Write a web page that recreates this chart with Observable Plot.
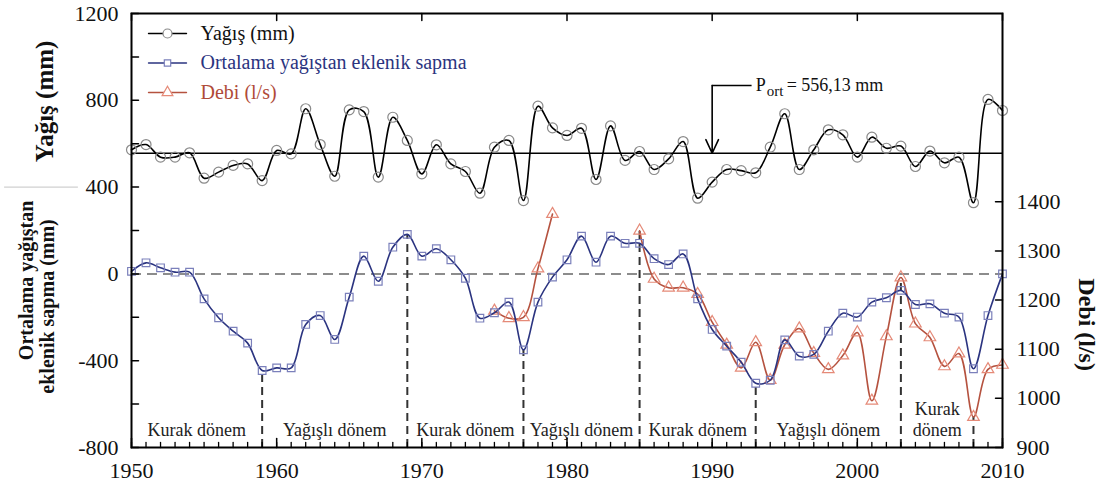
<!DOCTYPE html>
<html><head><meta charset="utf-8">
<script src="https://cdn.jsdelivr.net/npm/d3@7"></script>
<script src="https://cdn.jsdelivr.net/npm/@observablehq/plot@0.6"></script>
<style>
html,body{margin:0;padding:0;background:#fff;}
#chart{width:1106px;height:490px;}
#chart svg, #chart svg text{font-family:"Liberation Serif", "Times New Roman", serif !important;}
</style>
</head><body><div id="chart"></div>
<script>
// ---- data ----
const years = [1950,1951,1952,1953,1954,1955,1956,1957,1958,1959,
  1960,1961,1962,1963,1964,1965,1966,1967,1968,1969,
  1970,1971,1972,1973,1974,1975,1976,1977,1978,1979,
  1980,1981,1982,1983,1984,1985,1986,1987,1988,1989,
  1990,1991,1992,1993,1994,1995,1996,1997,1998,1999,
  2000,2001,2002,2003,2004,2005,2006,2007,2008,2009,2010];
const rain = [572,596,538,538,558,441,469,500,507,430,
  569,553,761,596,450,756,748,446,722,615,
  461,595,507,472,372,584,615,338,773,673,
  638,671,435,682,523,564,481,530,610,349,
  423,481,476,466,584,738,481,572,664,641,
  538,630,579,589,495,566,512,538,328,804,753];
const cumDev = [12,51,28,8,8,-115,-202,-264,-319,-445,
  -433,-433,-233,-192,-302,-107,82,-34,123,182,
  82,116,65,-20,-204,-179,-130,-350,-130,-15,
  65,174,54,174,141,141,70,43,92,-115,
  -256,-333,-407,-504,-490,-304,-379,-371,-264,-181,
  -199,-130,-110,-76,-141,-138,-181,-199,-437,-192,0];
const debi = [null,null,null,null,null,null,null,null,null,null,
  null,null,null,null,null,null,null,null,null,null,
  null,null,null,null,null,1178,1163,1165,1264,1375,
  null,null,null,null,null,1341,1243,1225,1225,1212,
  1155,1109,1062,1114,1037,1109,1142,1092,1059,1087,
  1134,995,1126,1246,1152,1124,1065,1091,962,1059,1068];
const meanRain = 556.13;
const periodBounds = [1950,1959,1969,1977,1985,1993,2003,2008];
const boundaryKind = [null,"trough","peak","trough","peak","trough","peak","trough"];
const periodLabels = ["Kurak dönem","Yağışlı dönem","Kurak dönem","Yağışlı dönem","Kurak dönem","Yağışlı dönem","Kurak\ndönem"];
const leftTickLabels = [-800,-400,0,400,800,1200];
const leftMinorTicks = [-800,-600,-400,-200,0,200,400,600,800,1000,1200];
const debiTicks = [900,1000,1100,1200,1300,1400];
const xTickLabels = [1950,1960,1970,1980,1990,2000,2010];
const seriesNames = ["Yağış (mm)","Ortalama yağıştan eklenik sapma","Debi (l/s)"];
const meanLabel = ["P","ort","= 556,13 mm"];
const meanArrow = {x: 1990, yTop: 868, xText: 1993};

// ---- secondary axis transform (Debi -> left units) ----
const debiK = 2.265;
const toL = v => -800 + (v - 900) * debiK;
const fromL = L => 900 + (L + 800) / debiK;

const rows = years.map((year, i) => ({year, rain: rain[i], dev: cumDev[i], debi: debi[i] == null ? NaN : toL(debi[i])}));
const bounds = periodBounds.slice(1).map((b, j) => {
  const r = rows.find(d => d.year === b);
  const vals = [r.dev, r.debi].filter(v => Number.isFinite(v));
  return {year: b, top: boundaryKind[j + 1] === "peak" ? Math.max(...vals) : Math.min(...vals)};
});
const periods = periodLabels.map((label, i) => ({label, x: (periodBounds[i] + periodBounds[i + 1]) / 2}));

// ---- styles ----
const FONT = "Liberation Serif";
const C = {
  rain: "#000", rainDot: "#8a8a8a",
  dev: "#2b3480", devDot: "#7b80bb",
  deb: "#b5523f", debDot: "#e58a78",
  devText: "#2b3480", debText: "#b04a38"
};
const shapeR = {draw(c, l) { c.moveTo(0, 0); c.lineTo(l, 0); }};
const shapeL = {draw(c, l) { c.moveTo(0, 0); c.lineTo(-l, 0); }};
const shapeU = {draw(c, l) { c.moveTo(0, 0); c.lineTo(0, -l); }};
const shapeD = {draw(c, l) { c.moveTo(0, 0); c.lineTo(0, l); }};

const legendStyles = [
  {line: C.rain, dot: C.rainDot, symbol: "circle", r: 4.5, text: "#111"},
  {line: C.dev, dot: C.devDot, symbol: "square", r: 3.6, text: C.devText},
  {line: C.deb, dot: C.debDot, symbol: "triangle", r: 4, text: C.debText}
];
const legendMarks = seriesNames.flatMap((name, i) => {
  const s = legendStyles[i];
  const dy = 20 + i * 29.5;
  return [
    Plot.vector([0], {frameAnchor: "top-left", dx: 17, dy, shape: shapeR, length: 38, anchor: "start", stroke: s.line, strokeWidth: 1.4}),
    Plot.dot([0], {x: null, y: null, frameAnchor: "top-left", dx: 36, dy, symbol: s.symbol, r: s.r, stroke: s.dot, fill: "white", strokeWidth: 1.2}),
    Plot.text([name], {frameAnchor: "top-left", dx: 69, dy, text: d => d, textAnchor: "start", lineAnchor: "middle", fill: s.text, fontSize: 20, fontFamily: FONT})
  ];
});

const chart = Plot.plot({
  width: 1106, height: 490,
  marginLeft: 131, marginRight: 104, marginTop: 13, marginBottom: 43,
  style: {fontFamily: FONT, background: "white", color: "#111"},
  x: {domain: [1950, 2010], axis: null},
  y: {domain: [-800, 1200], axis: null},
  marks: [
    // stray separator line at left
    Plot.vector([400], {y: d => d, frameAnchor: "left", dx: -54, shape: shapeL, length: 73, anchor: "start", stroke: "#c4c4c4", strokeWidth: 1}),
    // reference lines
    Plot.ruleY([0], {stroke: "#8c8c8c", strokeWidth: 2, strokeDasharray: "10,6"}),
    Plot.ruleY([meanRain], {stroke: "#000", strokeWidth: 1.6}),
    Plot.ruleX(bounds, {x: "year", y1: -800, y2: "top", stroke: "#333", strokeWidth: 2, strokeDasharray: "8,5"}),
    // series
    Plot.line(rows, {x: "year", y: "rain", curve: "catmull-rom", stroke: C.rain, strokeWidth: 1.6}),
    Plot.dot(rows, {x: "year", y: "rain", r: 5, stroke: C.rainDot, fill: "none", strokeWidth: 1.2}),
    Plot.line(rows, {x: "year", y: "debi", curve: "catmull-rom", stroke: C.deb, strokeWidth: 1.6}),
    Plot.dot(rows, {x: "year", y: "debi", symbol: "triangle", r: 4.3, stroke: C.debDot, fill: "none", strokeWidth: 1.2}),
    Plot.line(rows, {x: "year", y: "dev", curve: "catmull-rom", stroke: C.dev, strokeWidth: 1.6}),
    Plot.dot(rows, {x: "year", y: "dev", symbol: "square", r: 4.3, stroke: C.devDot, fill: "none", strokeWidth: 1.2}),
    // period labels
    Plot.text(periods, {x: "x", frameAnchor: "bottom", dy: -12, textAnchor: "middle", lineAnchor: "bottom", lineHeight: 1.15, text: "label", fontSize: 18, fill: "#222", fontFamily: FONT}),
    // mean annotation
    Plot.ruleY([meanArrow], {y: "yTop", x1: "x", x2: d => d.xText - 0.25, stroke: "#000", strokeWidth: 1.4}),
    Plot.arrow([meanArrow], {x1: "x", y1: "yTop", x2: "x", y2: () => meanRain, stroke: "#000", strokeWidth: 1.6, headLength: 14, headAngle: 50}),
    Plot.text([meanArrow], {x: "xText", y: "yTop", text: () => meanLabel[0], textAnchor: "start", fontSize: 18, fill: "#111", fontFamily: FONT}),
    Plot.text([meanArrow], {x: "xText", y: "yTop", dx: 11, dy: 6, text: () => meanLabel[1], textAnchor: "start", fontSize: 15, fill: "#111", fontFamily: FONT}),
    Plot.text([meanArrow], {x: "xText", y: "yTop", dx: 31, text: () => meanLabel[2], textAnchor: "start", fontSize: 18, fill: "#111", fontFamily: FONT}),
    // legend
    ...legendMarks,
    // frame
    Plot.frame({stroke: "#000", strokeWidth: 2}),
    // ticks (inward)
    Plot.vector(leftMinorTicks, {y: d => d, frameAnchor: "left", shape: shapeR, length: 7, anchor: "start", stroke: "#000", strokeWidth: 1.5}),
    Plot.vector(debiTicks, {y: d => toL(d), frameAnchor: "right", shape: shapeL, length: 7, anchor: "start", stroke: "#000", strokeWidth: 1.5}),
    Plot.vector(years, {x: d => d, frameAnchor: "bottom", shape: shapeU, length: 5, anchor: "start", stroke: "#000", strokeWidth: 1.3}),
    Plot.vector(xTickLabels, {x: d => d, frameAnchor: "bottom", shape: shapeU, length: 9, anchor: "start", stroke: "#000", strokeWidth: 1.5}),
    Plot.vector(xTickLabels, {x: d => d, frameAnchor: "top", shape: shapeD, length: 7, anchor: "start", stroke: "#000", strokeWidth: 1.5}),
    // axis labels
    Plot.axisY({anchor: "left", ticks: leftTickLabels, tickSize: 0, tickPadding: 13, tickFormat: d => String(d), fontSize: 22, label: null, fontFamily: FONT}),
    Plot.axisY({anchor: "right", ticks: debiTicks.map(toL), tickSize: 0, tickPadding: 14, tickFormat: d => String(Math.round(fromL(d))), fontSize: 22, label: null, fontFamily: FONT}),
    Plot.axisX({anchor: "bottom", ticks: xTickLabels, tickSize: 0, tickPadding: 15, tickFormat: d => String(d), fontSize: 22, label: null, fontFamily: FONT}),
    // axis titles
    Plot.text(["Yağış (mm)"], {frameAnchor: "left", y: () => 795, dx: -87, rotate: -90, textAnchor: "middle", lineAnchor: "middle", text: d => d, fontSize: 25, fontWeight: "bold", fill: "#111", fontFamily: FONT}),
    Plot.text(["Ortalama yağıştan"], {frameAnchor: "left", y: () => -30, dx: -105, rotate: -90, textAnchor: "middle", lineAnchor: "middle", text: d => d, fontSize: 20, fontWeight: "bold", fill: "#111", fontFamily: FONT}),
    Plot.text(["eklenik sapma (mm)"], {frameAnchor: "left", y: () => -150, dx: -84, rotate: -90, textAnchor: "middle", lineAnchor: "middle", text: d => d, fontSize: 20, fontWeight: "bold", fill: "#111", fontFamily: FONT}),
    Plot.text(["Debi (l/s)"], {frameAnchor: "right", y: () => toL(1150), dx: 84, rotate: 90, textAnchor: "middle", lineAnchor: "middle", text: d => d, fontSize: 24, fontWeight: "bold", fill: "#111", fontFamily: FONT})
  ]
});
document.getElementById("chart").appendChild(chart);
</script>
</body></html>
